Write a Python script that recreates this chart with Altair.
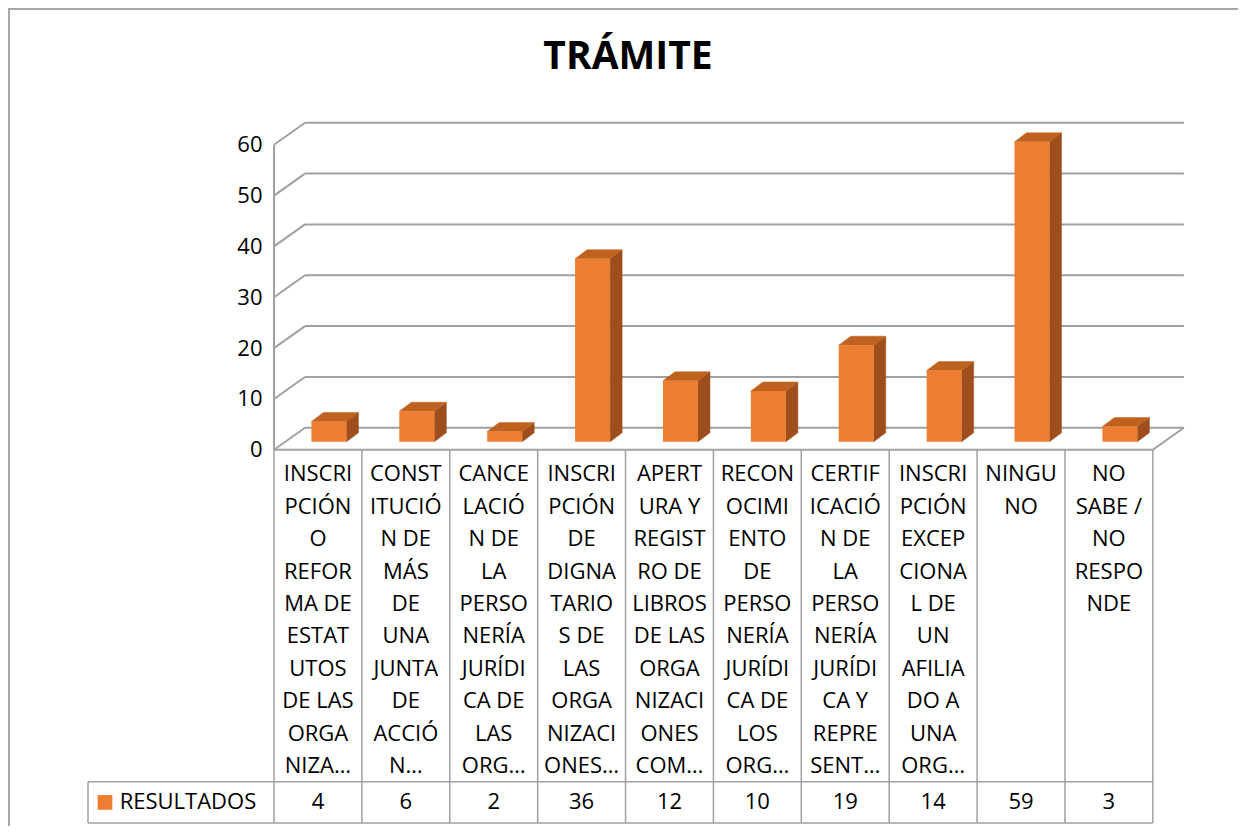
import altair as alt
import pandas as pd

# ---------------- data ----------------
chart_title = "TRÁMITE"
series_name = "RESULTADOS"
category_lines = [
    ["INSCRI", "PCIÓN", "O", "REFOR", "MA DE", "ESTAT", "UTOS", "DE LAS", "ORGA", "NIZA…"],
    ["CONST", "ITUCIÓ", "N DE", "MÁS", "DE", "UNA", "JUNTA", "DE", "ACCIÓ", "N…"],
    ["CANCE", "LACIÓ", "N DE", "LA", "PERSO", "NERÍA", "JURÍDI", "CA DE", "LAS", "ORG…"],
    ["INSCRI", "PCIÓN", "DE", "DIGNA", "TARIO", "S DE", "LAS", "ORGA", "NIZACI", "ONES…"],
    ["APERT", "URA Y", "REGIST", "RO DE", "LIBROS", "DE LAS", "ORGA", "NIZACI", "ONES", "COM…"],
    ["RECON", "OCIMI", "ENTO", "DE", "PERSO", "NERÍA", "JURÍDI", "CA DE", "LOS", "ORG…"],
    ["CERTIF", "ICACIÓ", "N DE", "LA", "PERSO", "NERÍA", "JURÍDI", "CA Y", "REPRE", "SENT…"],
    ["INSCRI", "PCIÓN", "EXCEP", "CIONA", "L DE", "UN", "AFILIA", "DO A", "UNA", "ORG…"],
    ["NINGU", "NO"],
    ["NO", "SABE /", "NO", "RESPO", "NDE"],
]
values = [4, 6, 2, 36, 12, 10, 19, 14, 59, 3]
y_ticks = [0, 10, 20, 30, 40, 50, 60]

# ---------------- layout constants ----------------
W, H = 914, 727
XMIN, XMAX = 0.0, 10.4
YMIN, YMAX = -74.0, 69.0
U = W / (XMAX - XMIN)      # px per x unit
K = H / (YMAX - YMIN)      # px per y unit
DX, DY = 31 / U, 22 / K    # wall depth
OFF, BW = 11 / U, 35 / U   # bar offset / width
SDX, SDY = 12 / U, 9 / K   # bar depth
BASE = 8 / K
ROW_TOP = -332 / K
ROW_BOT = -373.3 / K
ROW_MID = (ROW_TOP + ROW_BOT) / 2
LEG_LEFT = -186 / U
LEG_SQ = -169 / U
LEG_TXT = -154.3 / U

FRONT = "#ED7D31"
SIDE = "#9E4E1C"
TOPC = "#C0621F"
GRID = "#A0A0A0"
FONT = "Open Sans"

xs = alt.Scale(domain=[XMIN, XMAX], nice=False, zero=False)
ys = alt.Scale(domain=[YMIN, YMAX], nice=False, zero=False)
yaxis = alt.Axis(values=y_ticks, grid=False, domain=False, ticks=False, labelPadding=12,
                 labelFontSize=22, labelFont=FONT, labelColor="#000000", title=None)

n = len(values)
# grid lines
g = []
for v in y_ticks:
    g.append(dict(x=DX, x2=n + DX, y=v + DY, y2=v + DY))
    g.append(dict(x=0, x2=DX, y=v, y2=v + DY))
g.append(dict(x=0, x2=n, y=0, y2=0))
g.append(dict(x=n, x2=n + DX, y=0, y2=DY))
g.append(dict(x=0, x2=0, y=0, y2=max(y_ticks)))
grid_df = pd.DataFrame(g)

# table lines
t = []
for k in range(n + 1):
    t.append(dict(x=k, x2=k, y=0, y2=ROW_BOT))
t.append(dict(x=LEG_LEFT, x2=LEG_LEFT, y=ROW_TOP, y2=ROW_BOT))
t.append(dict(x=LEG_LEFT, x2=n, y=ROW_TOP, y2=ROW_TOP))
t.append(dict(x=LEG_LEFT, x2=n, y=ROW_BOT, y2=ROW_BOT))
table_df = pd.DataFrame(t)

front, side, top, labels, vals = [], [], [], [], []
for i, v in enumerate(values):
    c = i + 0.5
    xl, xr = c + OFF - BW / 2, c + OFF + BW / 2
    T = BASE + v
    front.append(dict(x=xl, x2=xr, y=BASE, y2=T))
    side.append(dict(id=i, x=xr, lo=BASE, hi=T))
    side.append(dict(id=i, x=xr + SDX, lo=BASE + SDY, hi=T + SDY))
    top.append(dict(id=i, x=xl, lo=T, hi=T))
    top.append(dict(id=i, x=xl + SDX, lo=T, hi=T + SDY))
    top.append(dict(id=i, x=xr, lo=T, hi=T + SDY))
    top.append(dict(id=i, x=xr + SDX, lo=T + SDY, hi=T + SDY))
    labels.append(dict(x=c, y=0, label="\n".join(category_lines[i])))
    vals.append(dict(x=c, y=ROW_MID, label=str(v)))

front_df = pd.DataFrame(front)
side_df = pd.DataFrame(side)
top_df = pd.DataFrame(top)
lab_df = pd.DataFrame(labels)
val_df = pd.DataFrame(vals)
leg_df = pd.DataFrame([dict(x=LEG_SQ, xt=LEG_TXT, y=ROW_MID, label=series_name)])

X = lambda f: alt.X(f, scale=xs, axis=None)
Y = lambda f: alt.Y(f, scale=ys, axis=yaxis)

grid = alt.Chart(grid_df).mark_rule(color=GRID, strokeWidth=2).encode(
    x=X("x:Q"), x2="x2:Q", y=Y("y:Q"), y2="y2:Q")
table = alt.Chart(table_df).mark_rule(color=GRID, strokeWidth=1.5).encode(
    x=X("x:Q"), x2="x2:Q", y=Y("y:Q"), y2="y2:Q")

side_l = alt.Chart(side_df).mark_area(color=SIDE, stroke=SIDE, strokeWidth=0.5).encode(
    x=X("x:Q"), y=Y("lo:Q"), y2="hi:Q", detail="id:N")
top_l = alt.Chart(top_df).mark_area(color=TOPC, stroke=TOPC, strokeWidth=0.5).encode(
    x=X("x:Q"), y=Y("lo:Q"), y2="hi:Q", detail="id:N")
front_l = alt.Chart(front_df).mark_rect(color=FRONT).encode(
    x=X("x:Q"), x2="x2:Q", y=Y("y:Q"), y2="y2:Q")

lab_l = alt.Chart(lab_df).mark_text(font=FONT, fontSize=22, lineBreak="\n", lineHeight=32.4,
                                    baseline="alphabetic", align="center", dy=31.7, color="#000000").encode(
    x=X("x:Q"), y=Y("y:Q"), text="label:N")
val_l = alt.Chart(val_df).mark_text(font=FONT, fontSize=22, baseline="middle", align="center",
                                    color="#000000").encode(
    x=X("x:Q"), y=Y("y:Q"), text="label:N")
leg_sq = alt.Chart(leg_df).mark_square(color=FRONT, size=216, opacity=1).encode(
    x=X("x:Q"), y=Y("y:Q"))
leg_tx = alt.Chart(leg_df).mark_text(font=FONT, fontSize=22, baseline="middle", align="left",
                                     color="#000000").encode(
    x=X("xt:Q"), y=Y("y:Q"), text="label:N")

frame_data = alt.Data(values=[{}])
frame_left = alt.Chart(frame_data).mark_rule(color="#A6A6A6", strokeWidth=2).encode(
    x=alt.value(-265), y=alt.value(-90), y2=alt.value(740))
frame_top = alt.Chart(frame_data).mark_rule(color="#A6A6A6", strokeWidth=2).encode(
    x=alt.value(-266), x2=alt.value(964), y=alt.value(-90))

chart = alt.layer(
    frame_left, frame_top, grid, table, side_l, top_l, front_l, lab_l, val_l, leg_sq, leg_tx
).properties(
    width=W, height=H,
    background="white",
    title=alt.Title(chart_title, font=FONT, fontSize=39, fontWeight="bold", color="#000000",
                    anchor="middle", frame="group", dx=-103, offset=-100, baseline="alphabetic"),
    autosize=alt.AutoSizeParams(type="none"),
    padding={"left": 266, "top": 91, "right": 50, "bottom": 0},
).configure_view(stroke=None)

chart.save("out.html", embed_options={"renderer": "svg", "actions": False})
